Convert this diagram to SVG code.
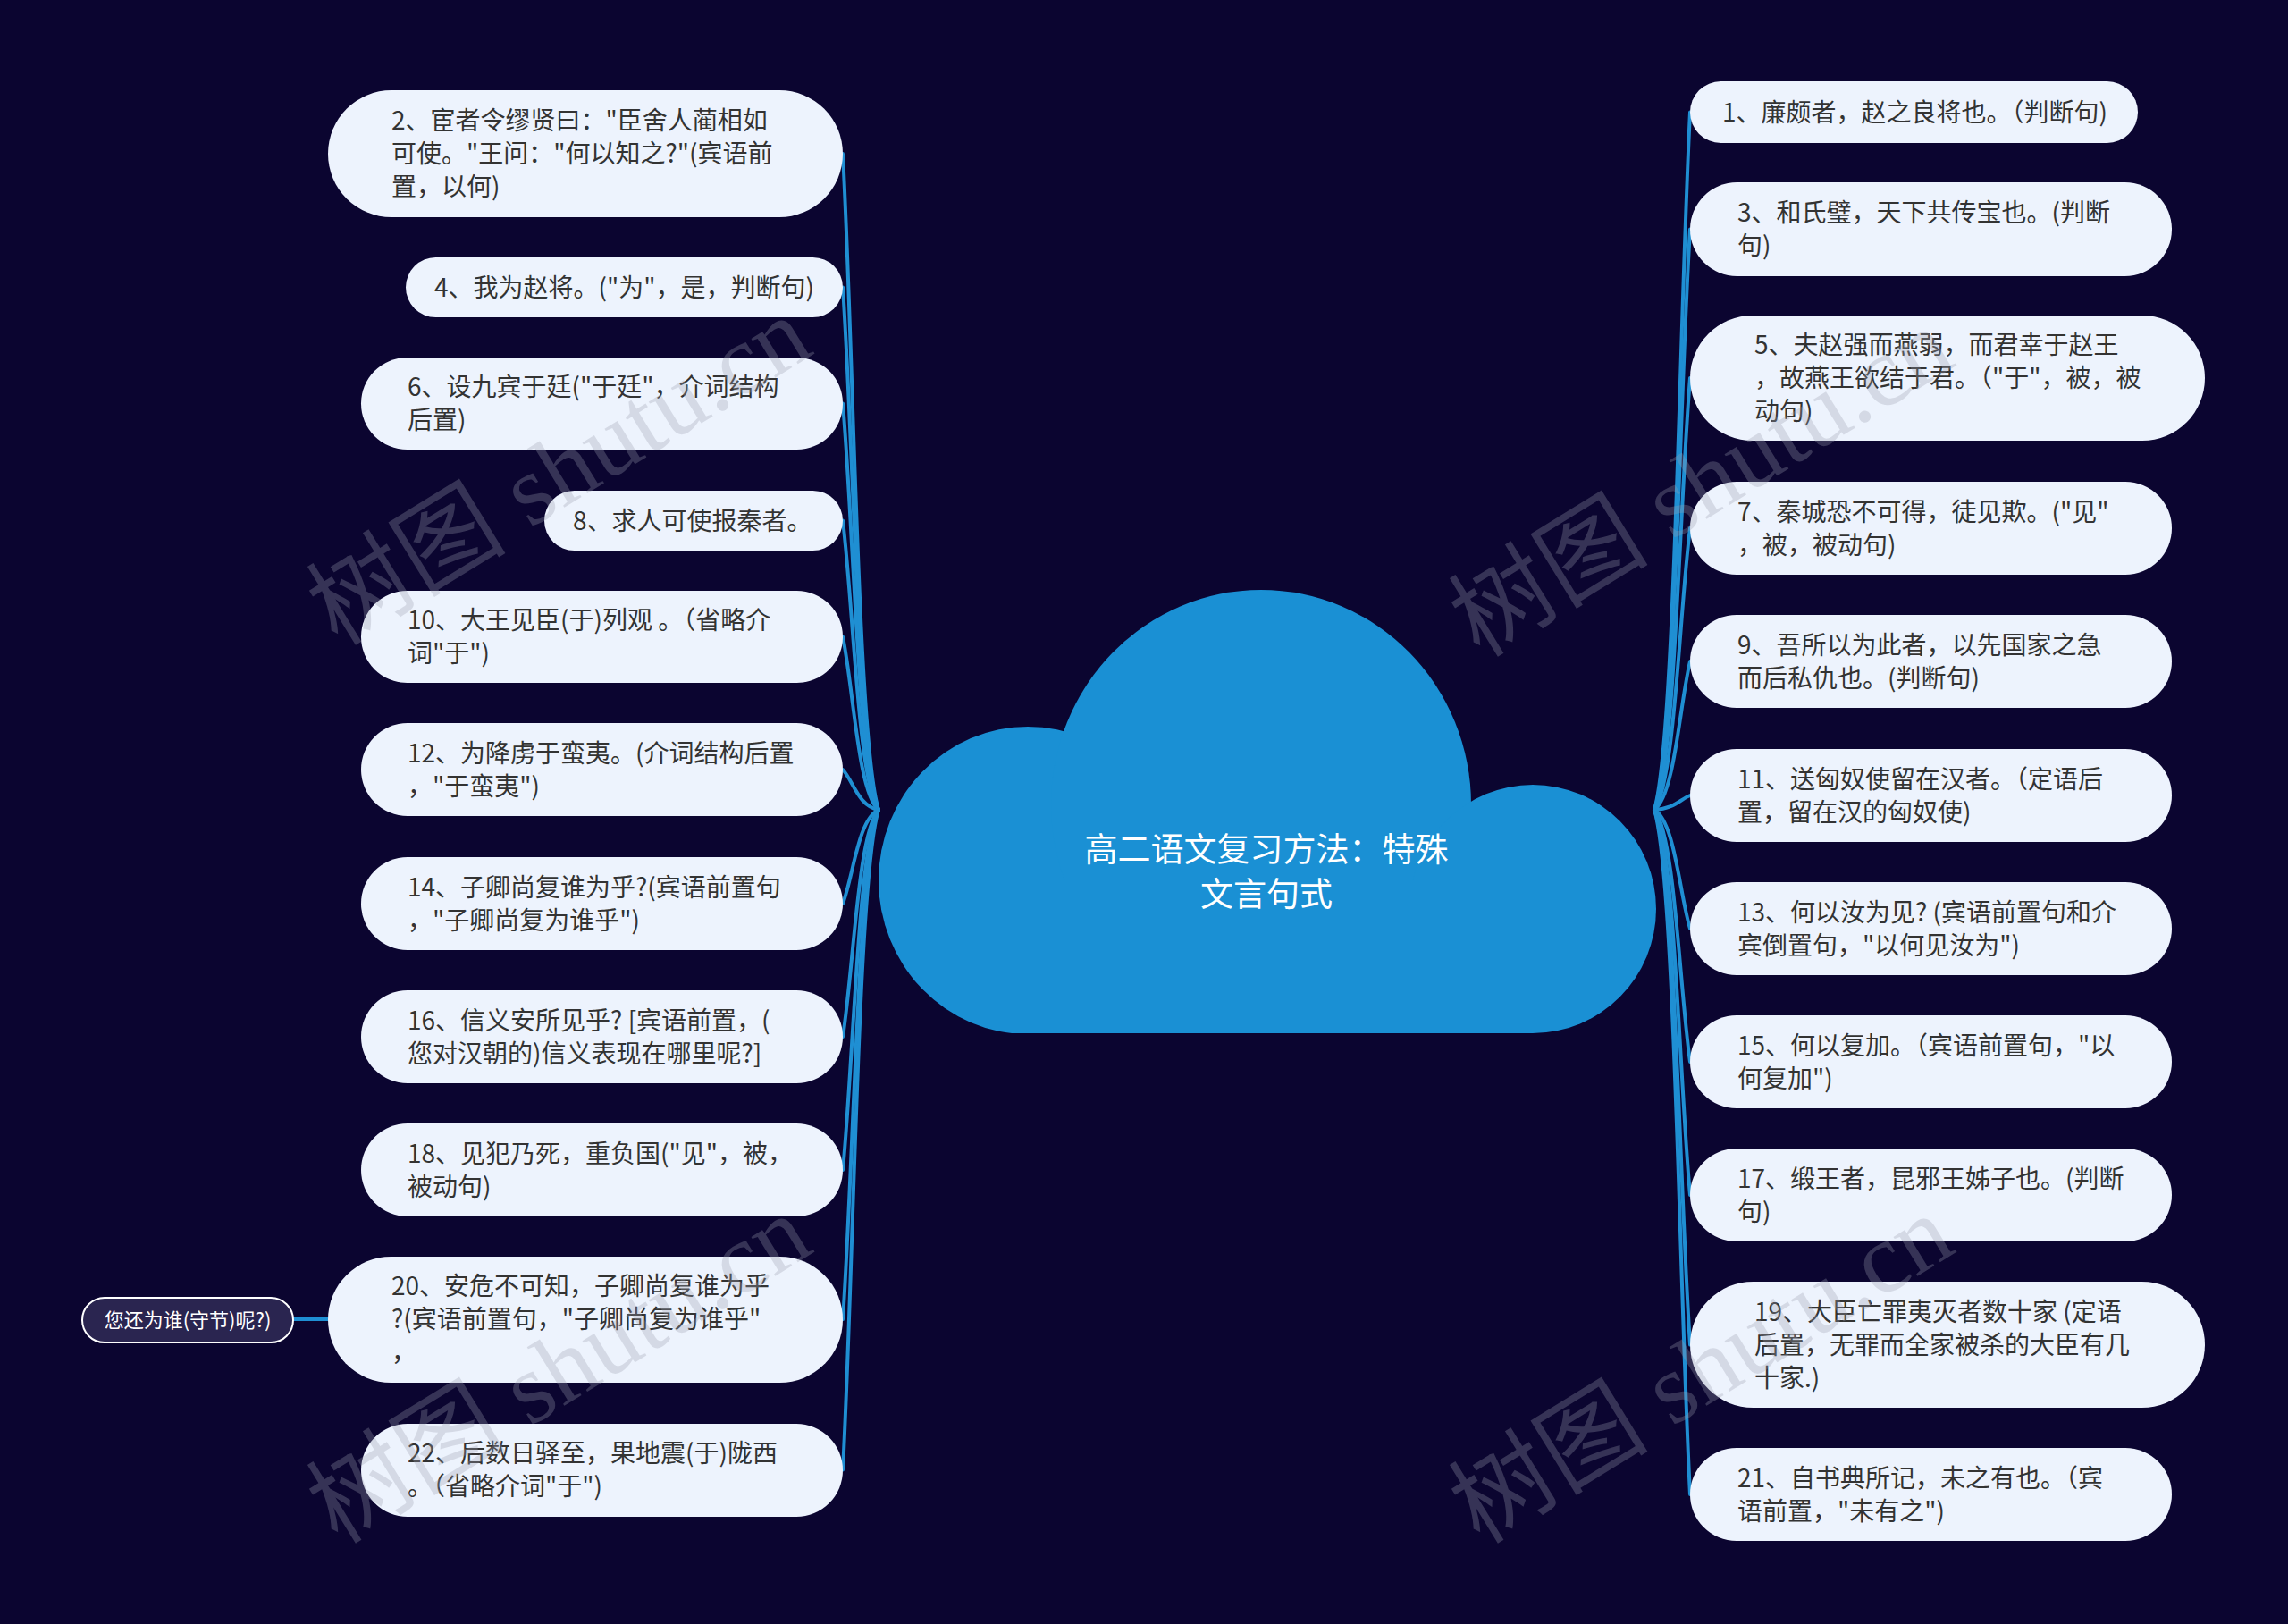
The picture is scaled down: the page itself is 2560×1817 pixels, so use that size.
<svg xmlns="http://www.w3.org/2000/svg" width="2560" height="1817" viewBox="0 0 2560 1817">
<style>
.bg{fill:#0b0530}
.node rect{fill:#edf3fd}
.t{font-family:"Noto Sans CJK SC","Liberation Sans",sans-serif;font-size:28px;fill:#333333}
.conn path{fill:none;stroke:#1f8fd3;stroke-width:4;stroke-linecap:round}
.cloud{fill:#1a90d4}
.ct{font-family:"Noto Sans CJK SC","Liberation Sans",sans-serif;font-size:37px;fill:#ffffff;text-anchor:middle}
.child rect{fill:#2a2550;stroke:#ffffff;stroke-width:2}
.cht{font-family:"Noto Sans CJK SC","Liberation Sans",sans-serif;font-size:22px;fill:#ffffff;text-anchor:middle}
.wm{font-family:"Liberation Serif","Noto Sans CJK SC",serif;font-size:112px;fill:#9a9eb0;fill-opacity:0.3;text-anchor:middle}
</style>
<defs>
<clipPath id="cloudClip"><rect x="900" y="600" width="1000" height="556"/></clipPath>
</defs>
<rect class="bg" x="0" y="0" width="2560" height="1817"/>

<g id="connectors" class="conn">
<path d="M943 172 C955 392.2 960 832.6 983 906"/>
<path d="M943 321.5 C955 496.9 960 847.6 983 906"/>
<path d="M943 451.5 C955 587.9 960 860.6 983 906"/>
<path d="M943 582.5 C955 679.6 960 873.7 983 906"/>
<path d="M943 712.5 C955 770.6 960 886.7 983 906"/>
<path d="M943 861 C955 874.5 960 901.5 983 906"/>
<path d="M943 1011 C955 979.5 960 916.5 983 906"/>
<path d="M943 1160 C955 1083.8 960 931.4 983 906"/>
<path d="M943 1309 C955 1188.1 960 946.3 983 906"/>
<path d="M943 1476 C955 1305 960 963 983 906"/>
<path d="M943 1644.5 C955 1423 960 979.9 983 906"/>
<path d="M1891 125.5 C1879 359.7 1874 828 1851 906"/>
<path d="M1891 256.5 C1879 451.4 1874 841 1851 906"/>
<path d="M1891 423 C1879 567.9 1874 857.7 1851 906"/>
<path d="M1891 591 C1879 685.5 1874 874.5 1851 906"/>
<path d="M1891 740 C1879 789.8 1874 889.4 1851 906"/>
<path d="M1891 890 C1879 894.8 1874 904.4 1851 906"/>
<path d="M1891 1039 C1879 999.1 1874 919.3 1851 906"/>
<path d="M1891 1188 C1879 1103.4 1874 934.2 1851 906"/>
<path d="M1891 1337 C1879 1207.7 1874 949.1 1851 906"/>
<path d="M1891 1504.5 C1879 1325 1874 965.9 1851 906"/>
<path d="M1891 1672 C1879 1442.2 1874 982.6 1851 906"/>
<path d="M367 1476 L328 1476"/>
</g>

<g id="root">
<g class="cloud" clip-path="url(#cloudClip)">
<ellipse cx="1150" cy="985" rx="167" ry="172"/>
<ellipse cx="1411" cy="900" rx="235" ry="240"/>
<ellipse cx="1715" cy="1017" rx="138" ry="139"/>
<rect x="1150" y="985" width="565" height="171"/>
</g>
<text class="ct" x="1417" y="964">高二语文复习方法：特殊</text>
<text class="ct" x="1417" y="1014">文言句式</text>
</g>

<g id="n2" class="node"><rect x="367" y="101" width="576" height="142" rx="71"/>
<text class="t" x="438"><tspan x="438" y="145">2、宦者令缪贤曰："臣舍人蔺相如</tspan><tspan x="438" y="182">可使。"王问："何以知之?"(宾语前</tspan><tspan x="438" y="219">置，以何)</tspan></text></g>
<g id="n4" class="node"><rect x="454" y="288" width="489" height="67" rx="33.5"/>
<text class="t" x="486" y="331.5">4、我为赵将。("为"，是，判断句)</text></g>
<g id="n6" class="node"><rect x="404" y="400" width="539" height="103" rx="51.5"/>
<text class="t"><tspan x="456" y="443">6、设九宾于廷("于廷"，介词结构</tspan><tspan x="456" y="480">后置)</tspan></text></g>
<g id="n8" class="node"><rect x="609" y="549" width="334" height="67" rx="33.5"/>
<text class="t" x="641" y="592.5">8、求人可使报秦者。</text></g>
<g id="n10" class="node"><rect x="404" y="661" width="539" height="103" rx="51.5"/>
<text class="t"><tspan x="456" y="704">10、大王见臣(于)列观 。（省略介</tspan><tspan x="456" y="741">词"于")</tspan></text></g>
<g id="n12" class="node"><rect x="404" y="809" width="539" height="104" rx="52"/>
<text class="t"><tspan x="456" y="852.5">12、为降虏于蛮夷。(介词结构后置</tspan><tspan x="456" y="889.5">，"于蛮夷")</tspan></text></g>
<g id="n14" class="node"><rect x="404" y="959" width="539" height="104" rx="52"/>
<text class="t"><tspan x="456" y="1002.5">14、子卿尚复谁为乎?(宾语前置句</tspan><tspan x="456" y="1039.5">，"子卿尚复为谁乎")</tspan></text></g>
<g id="n16" class="node"><rect x="404" y="1108" width="539" height="104" rx="52"/>
<text class="t"><tspan x="456" y="1151.5">16、信义安所见乎? [宾语前置，(</tspan><tspan x="456" y="1188.5">您对汉朝的)信义表现在哪里呢?]</tspan></text></g>
<g id="n18" class="node"><rect x="404" y="1257" width="539" height="104" rx="52"/>
<text class="t"><tspan x="456" y="1300.5">18、见犯乃死，重负国("见"，被，</tspan><tspan x="456" y="1337.5">被动句)</tspan></text></g>
<g id="n20" class="node"><rect x="367" y="1406" width="576" height="141" rx="70.5"/>
<text class="t"><tspan x="438" y="1449">20、安危不可知，子卿尚复谁为乎</tspan><tspan x="438" y="1486">?(宾语前置句，"子卿尚复为谁乎"</tspan><tspan x="438" y="1523">，</tspan></text></g>
<g id="n22" class="node"><rect x="404" y="1593" width="539" height="104" rx="52"/>
<text class="t"><tspan x="456" y="1636">22、后数日驿至，果地震(于)陇西</tspan><tspan x="456" y="1673">。（省略介词"于")</tspan></text></g>

<g id="n20c" class="child"><rect x="92" y="1452" width="236" height="50" rx="25"/>
<text class="cht" x="210" y="1485">您还为谁(守节)呢?)</text></g>

<g id="n1" class="node"><rect x="1891" y="91" width="501" height="69" rx="34.5"/>
<text class="t" x="1927" y="135.5">1、廉颇者，赵之良将也。（判断句)</text></g>
<g id="n3" class="node"><rect x="1891" y="204" width="539" height="105" rx="52.5"/>
<text class="t"><tspan x="1944" y="248">3、和氏璧，天下共传宝也。(判断</tspan><tspan x="1944" y="285">句)</tspan></text></g>
<g id="n5" class="node"><rect x="1891" y="353" width="576" height="140" rx="70"/>
<text class="t"><tspan x="1963" y="396">5、夫赵强而燕弱，而君幸于赵王</tspan><tspan x="1963" y="433">，故燕王欲结于君。（"于"，被，被</tspan><tspan x="1963" y="470">动句)</tspan></text></g>
<g id="n7" class="node"><rect x="1891" y="539" width="539" height="104" rx="52"/>
<text class="t"><tspan x="1944" y="582.5">7、秦城恐不可得，徒见欺。("见"</tspan><tspan x="1944" y="619.5">，被，被动句)</tspan></text></g>
<g id="n9" class="node"><rect x="1891" y="688" width="539" height="104" rx="52"/>
<text class="t"><tspan x="1944" y="731.5">9、吾所以为此者，以先国家之急</tspan><tspan x="1944" y="768.5">而后私仇也。(判断句)</tspan></text></g>
<g id="n11" class="node"><rect x="1891" y="838" width="539" height="104" rx="52"/>
<text class="t"><tspan x="1944" y="881.5">11、送匈奴使留在汉者。（定语后</tspan><tspan x="1944" y="918.5">置，留在汉的匈奴使)</tspan></text></g>
<g id="n13" class="node"><rect x="1891" y="987" width="539" height="104" rx="52"/>
<text class="t"><tspan x="1944" y="1030.5">13、何以汝为见? (宾语前置句和介</tspan><tspan x="1944" y="1067.5">宾倒置句，"以何见汝为")</tspan></text></g>
<g id="n15" class="node"><rect x="1891" y="1136" width="539" height="104" rx="52"/>
<text class="t"><tspan x="1944" y="1179.5">15、何以复加。（宾语前置句，"以</tspan><tspan x="1944" y="1216.5">何复加")</tspan></text></g>
<g id="n17" class="node"><rect x="1891" y="1285" width="539" height="104" rx="52"/>
<text class="t"><tspan x="1944" y="1328.5">17、缎王者，昆邪王姊子也。(判断</tspan><tspan x="1944" y="1365.5">句)</tspan></text></g>
<g id="n19" class="node"><rect x="1891" y="1434" width="576" height="141" rx="70.5"/>
<text class="t"><tspan x="1963" y="1477.5">19、大臣亡罪夷灭者数十家 (定语</tspan><tspan x="1963" y="1514.5">后置，无罪而全家被杀的大臣有几</tspan><tspan x="1963" y="1551.5">十家.)</tspan></text></g>
<g id="n21" class="node"><rect x="1891" y="1620" width="539" height="104" rx="52"/>
<text class="t"><tspan x="1944" y="1663.5">21、自书典所记，未之有也。（宾</tspan><tspan x="1944" y="1700.5">语前置，"未有之")</tspan></text></g>

<g id="watermark">
<text class="wm" x="625" y="565" transform="rotate(-31.6 625 526)">树图 shutu.cn</text>
<text class="wm" x="625" y="1570" transform="rotate(-31.6 625 1531)">树图 shutu.cn</text>
<text class="wm" x="1903" y="578" transform="rotate(-31.6 1903 539)">树图 shutu.cn</text>
<text class="wm" x="1903" y="1570" transform="rotate(-31.6 1903 1531)">树图 shutu.cn</text>
</g>
</svg>
